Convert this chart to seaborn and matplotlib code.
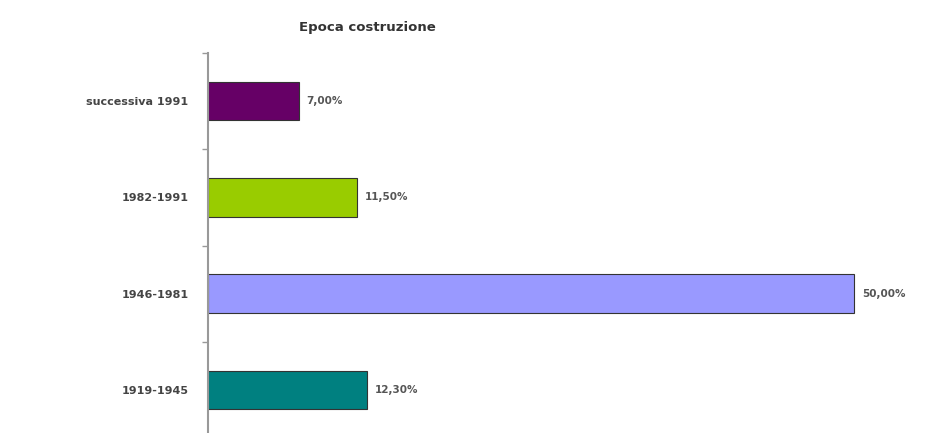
import pandas as pd
import seaborn as sns
import matplotlib.pyplot as plt

categories = ['successiva 1991', '1982-1991', '1946-1981', '1919-1945']
percent = [7.00, 11.50, 50.00, 12.30]
value_labels = ['7,00%', '11,50%', '50,00%', '12,30%']
bar_colors = ['#660066', '#99cc00', '#9999ff', '#008080']

df = pd.DataFrame({'Epoca': categories, 'Percentuale': percent})

sns.set_style('white')
plt.rcParams['font.family'] = ['DejaVu Sans']

fig = plt.figure(figsize=(9.32, 4.33), dpi=100)
ax = fig.add_axes([208 / 932, -0.012, 1 - 208 / 932, (433 - 53) / 433 + 0.012])

sns.barplot(data=df, x='Percentuale', y='Epoca', hue='Epoca', palette=bar_colors,
            orient='h', width=0.4, legend=False, saturation=1,
            edgecolor='#333333', linewidth=0.8, ax=ax)

ax.set_xlim(0, 56)
ax.set_ylim(3.5, -0.5)

for i, (v, lab) in enumerate(zip(percent, value_labels)):
    ax.text(v + 0.6, i, lab, va='center', ha='left', fontsize=7.5,
            fontweight='bold', color='#555555')

# category boundaries as small ticks on the left
ax.set_yticks(range(len(categories)))
ax.set_yticklabels(categories, fontsize=8, fontweight='bold', color='#444444')
ax.tick_params(axis='y', which='major', length=0, pad=14)
ax.set_yticks([-0.5, 0.5, 1.5, 2.5, 3.5], minor=True)
ax.tick_params(axis='y', which='minor', length=4, width=1, color='#999999', left=True)

ax.set_xticks([])
ax.set_xlabel('')
ax.set_ylabel('')
for side in ['top', 'right', 'bottom']:
    ax.spines[side].set_visible(False)
ax.spines['left'].set_color('#999999')
ax.spines['left'].set_linewidth(1.5)

fig.text(367 / 932, 1 - 27 / 433, 'Epoca costruzione', ha='center', va='center',
         fontsize=9.5, fontweight='bold', color='#333333')

fig.savefig('out.png', dpi=100, facecolor='white')
